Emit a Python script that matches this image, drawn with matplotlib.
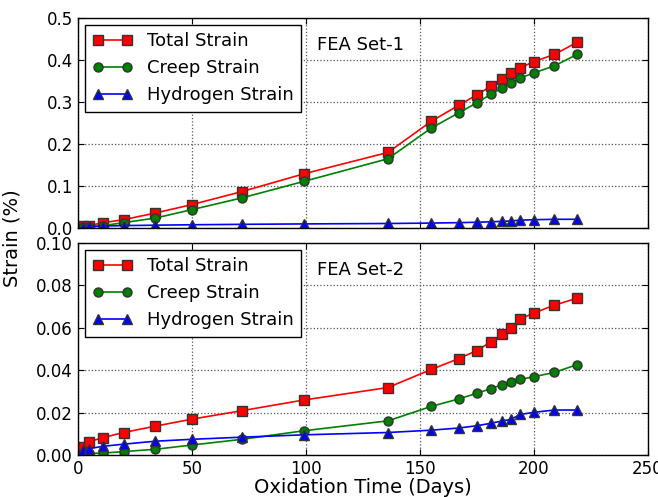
import numpy as np
import matplotlib
matplotlib.use("Agg")
import matplotlib.pyplot as plt

# ── Data ─────────────────────────────────────────────────────────────────────
DAYS = [2, 5, 11, 20, 34, 50, 72, 99, 136, 155, 167, 175, 181, 186, 190, 194, 200, 209, 219]

# FEA Set-1
TOTAL_1 = [0.004, 0.006, 0.013, 0.020, 0.036, 0.056, 0.087, 0.129, 0.180, 0.254,
           0.292, 0.317, 0.337, 0.355, 0.368, 0.381, 0.396, 0.413, 0.442]
CREEP_1 = [0.002, 0.002, 0.006, 0.013, 0.024, 0.044, 0.072, 0.111, 0.165, 0.238,
           0.274, 0.298, 0.318, 0.333, 0.346, 0.357, 0.369, 0.386, 0.413]
HYDRO_1 = [0.003, 0.004, 0.005, 0.006, 0.007, 0.008, 0.009, 0.010, 0.011, 0.012,
           0.013, 0.014, 0.015, 0.016, 0.017, 0.019, 0.020, 0.021, 0.021]

# FEA Set-2
TOTAL_2 = [0.0040, 0.0063, 0.0082, 0.0106, 0.0136, 0.0169, 0.0209, 0.0259, 0.0318, 0.0403,
           0.0454, 0.0492, 0.0532, 0.0568, 0.0597, 0.0641, 0.0669, 0.0706, 0.0739]
CREEP_2 = [0.0011, 0.0008, 0.0009, 0.0016, 0.0027, 0.0047, 0.0074, 0.0114, 0.0161, 0.0229,
           0.0264, 0.0291, 0.0312, 0.0331, 0.0343, 0.0356, 0.0369, 0.0389, 0.0426]
HYDRO_2 = [0.0024, 0.0030, 0.0041, 0.0051, 0.0065, 0.0074, 0.0084, 0.0095, 0.0106, 0.0117,
           0.0127, 0.0138, 0.0149, 0.0160, 0.0168, 0.0191, 0.0201, 0.0212, 0.0212]

LABELS = ["Total Strain", "Creep Strain", "Hydrogen Strain"]

# ── Plot ─────────────────────────────────────────────────────────────────────
plt.rcParams["font.family"] = "DejaVu Sans"

fig = plt.figure(figsize=(6.58, 4.97), dpi=100)
ax1 = fig.add_axes([0.1185, 0.541, 0.866, 0.423])
ax2 = fig.add_axes([0.1185, 0.0845, 0.866, 0.427], sharex=ax1)

styles = [("s", "#ff0000"), ("o", "#008000"), ("^", "#0000ff")]


def draw(ax, series, tag, ymax, yfmt):
    for (marker, color), ys, lab in zip(styles, series, LABELS):
        ax.plot(DAYS, ys, marker=marker, color=color, markerfacecolor=color,
                markeredgecolor="#333333", markersize=6.5, linewidth=1.2, label=lab)
    ax.set_xlim(0, 250)
    ax.set_ylim(0, ymax)
    ax.grid(True, linestyle=":", color="#555555", linewidth=0.9)
    ax.tick_params(direction="in", top=True, right=True, labelsize=12, length=4)
    ax.yaxis.set_major_formatter(plt.FormatStrFormatter(yfmt))
    for sp in ax.spines.values():
        sp.set_linewidth(1.0)
    leg = ax.legend(loc="upper left", fontsize=13, numpoints=2, handlelength=2.2,
                    fancybox=False, framealpha=1, borderaxespad=0.4)
    leg.get_frame().set_edgecolor("black")
    ax.text(105, ymax * 0.87, tag, fontsize=13, va="center")


draw(ax1, [TOTAL_1, CREEP_1, HYDRO_1], "FEA Set-1", 0.5, "%.1f")
draw(ax2, [TOTAL_2, CREEP_2, HYDRO_2], "FEA Set-2", 0.10, "%.2f")

ax1.set_yticks(np.arange(0, 0.51, 0.1))
ax2.set_yticks(np.arange(0, 0.101, 0.02))
plt.setp(ax1.get_xticklabels(), visible=False)

ax2.set_xlabel("Oxidation Time (Days)", fontsize=14, labelpad=0)
fig.text(0.018, 0.52, "Strain (%)", rotation=90, va="center", ha="center", fontsize=14)

fig.savefig("out.png", dpi=100)
